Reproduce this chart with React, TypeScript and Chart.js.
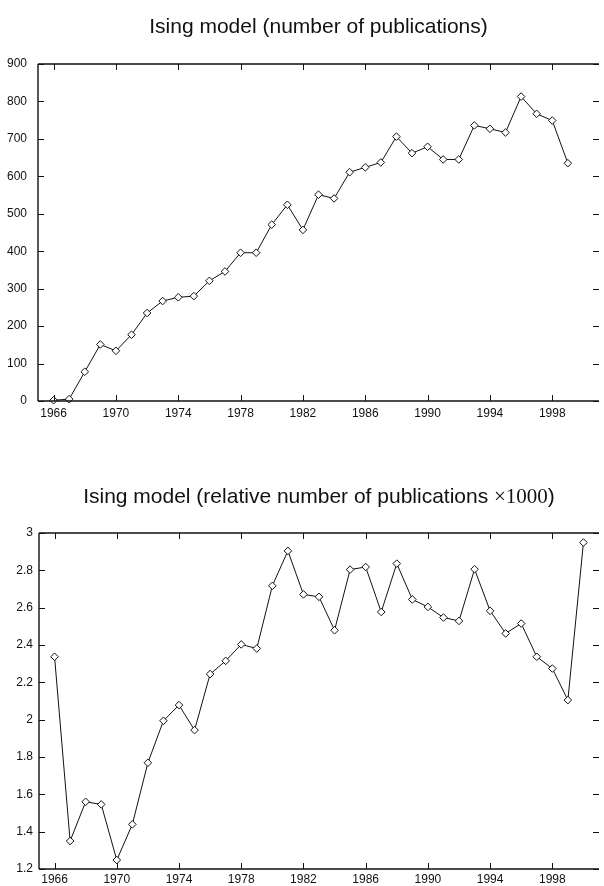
import { useEffect, useRef } from "react";
import { Chart, registerables } from "chart.js";

Chart.register(...registerables);

// ---- data ----
const yearsPublications = [
  1966, 1967, 1968, 1969, 1970, 1971, 1972, 1973, 1974, 1975, 1976, 1977,
  1978, 1979, 1980, 1981, 1982, 1983, 1984, 1985, 1986, 1987, 1988, 1989,
  1990, 1991, 1992, 1993, 1994, 1995, 1996, 1997, 1998, 1999,
];
const publications = [
  2, 5, 78, 151, 134, 177, 235, 267, 277, 280, 321, 346, 396, 396, 471, 524,
  457, 551, 541, 611, 624, 637, 706, 662, 679, 645, 645, 736, 727, 717, 813,
  767, 749, 635,
];

const yearsRelative = [
  1966, 1967, 1968, 1969, 1970, 1971, 1972, 1973, 1974, 1975, 1976, 1977,
  1978, 1979, 1980, 1981, 1982, 1983, 1984, 1985, 1986, 1987, 1988, 1989,
  1990, 1991, 1992, 1993, 1994, 1995, 1996, 1997, 1998, 1999, 2000,
];
const relative = [
  2.337, 1.35, 1.56, 1.546, 1.248, 1.439, 1.769, 1.994, 2.078, 1.944, 2.244,
  2.315, 2.403, 2.381, 2.717, 2.904, 2.671, 2.658, 2.479, 2.804, 2.818, 2.577,
  2.836, 2.644, 2.604, 2.547, 2.529, 2.806, 2.583, 2.462, 2.515, 2.337, 2.274,
  2.105, 2.949,
];

const xTickYears = [1966, 1970, 1974, 1978, 1982, 1986, 1990, 1994, 1998];
const publicationTicks = [0, 100, 200, 300, 400, 500, 600, 700, 800, 900];
const relativeTicks = [1.2, 1.4, 1.6, 1.8, 2, 2.2, 2.4, 2.6, 2.8, 3];
const relativeTickLabels = ["1.2", "1.4", "1.6", "1.8", "2", "2.2", "2.4", "2.6", "2.8", "3"];

const titleTop = [{ text: "Ising model (number of publications)", serif: false }];
const titleBottom = [
  { text: "Ising model (relative number of publications ", serif: false },
  { text: "×1000", serif: true },
  { text: ")", serif: false },
];

const SANS = '"Liberation Sans", Arial, Helvetica, sans-serif';
const SERIF = '"Liberation Serif", "Times New Roman", serif';
const INK = "#111111";

const framePlugin = {
  id: "frame",
  afterDraw(chart: any, _args: any, opts: any) {
    const { ctx, chartArea: a, scales } = chart;
    ctx.save();
    ctx.strokeStyle = INK;
    ctx.lineWidth = 1.4;
    ctx.beginPath();
    ctx.moveTo(a.left, a.top);
    ctx.lineTo(a.right, a.top);
    ctx.moveTo(a.left, a.top);
    ctx.lineTo(a.left, a.bottom);
    ctx.moveTo(a.left, a.bottom);
    ctx.lineTo(a.right, a.bottom);
    ctx.stroke();

    ctx.lineWidth = 1;
    const L = 6;
    ctx.beginPath();
    scales.x.ticks.forEach((t: any) => {
      const px = Math.round(scales.x.getPixelForValue(t.value)) + 0.5;
      ctx.moveTo(px, a.bottom);
      ctx.lineTo(px, a.bottom - L);
      ctx.moveTo(px, a.top);
      ctx.lineTo(px, a.top + L);
    });
    scales.y.ticks.forEach((t: any) => {
      const py = Math.round(scales.y.getPixelForValue(t.value)) + 0.5;
      ctx.moveTo(a.left, py);
      ctx.lineTo(a.left + L, py);
      ctx.moveTo(a.right, py);
      ctx.lineTo(a.right - L, py);
    });
    ctx.stroke();

    // title (mixed fonts)
    const parts = opts.parts || [];
    const size = opts.size || 21;
    const fontOf = (p: any) => `${size}px ${p.serif ? SERIF : SANS}`;
    let total = 0;
    const widths = parts.map((p: any) => {
      ctx.font = fontOf(p);
      const w = ctx.measureText(p.text).width;
      total += w;
      return w;
    });
    let x = (a.left + a.right) / 2 - total / 2;
    const y = a.top - (opts.gap || 31);
    ctx.fillStyle = INK;
    ctx.textBaseline = "alphabetic";
    ctx.textAlign = "left";
    parts.forEach((p: any, i: number) => {
      ctx.font = fontOf(p);
      ctx.fillText(p.text, x, y);
      x += widths[i];
    });
    ctx.restore();
  },
};

function makeConfig(
  xs: number[],
  ys: number[],
  yMin: number,
  yMax: number,
  yTicks: number[],
  yLabel: (v: number) => string,
  yAxisWidth: number,
  yPad: number,
  padTop: number,
  padBottom: number,
  xPad: number,
  xAxisHeight: number,
  title: any[],
  gap: number
): any {
  return {
    type: "line",
    data: {
      datasets: [
        {
          data: xs.map((x, i) => ({ x, y: ys[i] })),
          borderColor: INK,
          borderWidth: 1,
          pointStyle: "rectRot",
          pointRadius: 3.8,
          pointBorderWidth: 1,
          pointBorderColor: INK,
          pointBackgroundColor: "#ffffff",
          tension: 0,
          clip: false,
        },
      ],
    },
    options: {
      animation: false,
      responsive: false,
      devicePixelRatio: 1,
      layout: { padding: { top: padTop, right: 0, bottom: padBottom, left: 0 } },
      plugins: {
        legend: { display: false },
        title: { display: false },
        tooltip: { enabled: false },
        frame: { parts: title, size: 21, gap },
      },
      scales: {
        x: {
          type: "linear",
          min: 1965,
          max: 2001,
          grid: { display: false, drawTicks: false },
          border: { display: false },
          afterBuildTicks: (s: any) => {
            s.ticks = xTickYears.map((v) => ({ value: v }));
          },
          afterFit: (s: any) => {
            s.height = xAxisHeight;
          },
          ticks: {
            autoSkip: false,
            maxRotation: 0,
            padding: xPad,
            color: INK,
            font: { family: SANS, size: 12, lineHeight: 1 },
            callback: (v: number) => String(v),
          },
        },
        y: {
          type: "linear",
          min: yMin,
          max: yMax,
          grid: { display: false, drawTicks: false },
          border: { display: false },
          afterBuildTicks: (s: any) => {
            s.ticks = yTicks.map((v) => ({ value: v }));
          },
          afterFit: (s: any) => {
            s.width = yAxisWidth;
          },
          ticks: {
            autoSkip: false,
            padding: yPad,
            color: INK,
            font: { family: SANS, size: 12, lineHeight: 1 },
            callback: (v: number) => yLabel(v),
          },
        },
      },
    },
    plugins: [framePlugin],
  };
}

export default function App() {
  const topRef = useRef<HTMLCanvasElement | null>(null);
  const bottomRef = useRef<HTMLCanvasElement | null>(null);

  useEffect(() => {
    document.body.style.margin = "0";
    document.body.style.background = "#ffffff";
    const charts: Chart[] = [];
    if (topRef.current) {
      charts.push(
        new Chart(
          topRef.current,
          makeConfig(
            yearsPublications,
            publications,
            0,
            900,
            publicationTicks,
            (v) => String(v),
            38,
            11,
            64,
            23,
            7,
            19,
            titleTop,
            31
          )
        )
      );
    }
    if (bottomRef.current) {
      charts.push(
        new Chart(
          bottomRef.current,
          makeConfig(
            yearsRelative,
            relative,
            1.2,
            3,
            relativeTicks,
            (v) => {
              const i = relativeTicks.findIndex((t) => Math.abs(t - v) < 1e-6);
              return i >= 0 ? relativeTickLabels[i] : String(v);
            },
            39,
            6,
            90,
            0,
            5,
            17,
            titleBottom,
            30
          )
        )
      );
    }
    return () => charts.forEach((c) => c.destroy());
  }, []);

  return (
    <div style={{ width: 604, background: "#ffffff" }}>
      <canvas ref={topRef} width={604} height={443} style={{ display: "block" }} />
      <canvas ref={bottomRef} width={604} height={443} style={{ display: "block" }} />
    </div>
  );
}
